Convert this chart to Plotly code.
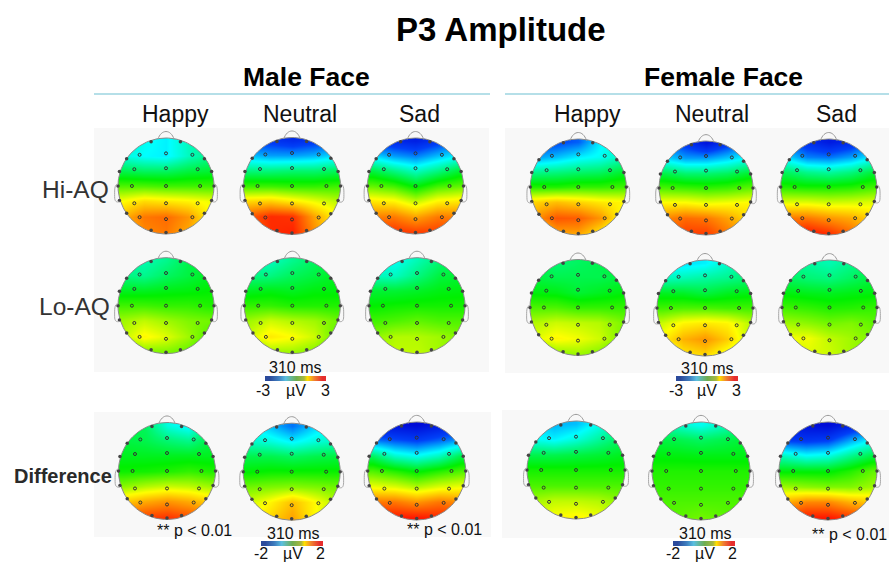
import math
import plotly.graph_objects as go

# ---- scalp values on a coarse grid (front row first, left column first), in colour-scale units
male_hi_happy = [[-.25,-.38,-.42,-.3,-.18],[-.35,-.4,-.42,-.3,-.22],[-.12,-.15,-.15,-.1,-.08],[.12,.12,.1,.1,.1],[.4,.48,.45,.42,.38],[.58,.72,.75,.65,.42],[.5,.68,.72,.6,.4]]
male_hi_neutral = [[-.7,-.75,-.8,-.75,-.65],[-.5,-.55,-.55,-.52,-.45],[-.2,-.2,-.18,-.18,-.15],[.1,.1,.08,.08,.1],[.5,.52,.45,.38,.3],[.78,.9,.88,.62,.42],[.7,.9,.92,.68,.4]]
male_hi_sad = [[-.75,-.8,-.85,-.75,-.6],[-.45,-.55,-.6,-.5,-.4],[-.1,-.2,-.3,-.2,-.08],[.15,.1,-.02,.1,.15],[.45,.42,.3,.42,.45],[.7,.72,.62,.72,.7],[.85,.88,.85,.85,.8]]
male_lo_happy = [[-.25,-.28,-.22,-.12,-.08],[-.2,-.22,-.15,-.1,-.05],[-.05,-.05,-.03,-.02,0],[.1,.1,.08,.08,.05],[.25,.3,.25,.2,.18],[.3,.42,.35,.25,.12],[.1,.2,.2,.15,.05]]
male_lo_neutral = [[-.3,-.3,-.22,-.15,-.1],[-.2,-.2,-.14,-.1,-.05],[-.05,-.03,-.05,-.02,-.02],[.08,.08,.05,.05,.05],[.25,.32,.28,.25,.18],[.32,.45,.4,.32,.15],[.15,.25,.25,.2,.1]]
male_lo_sad = [[-.35,-.38,-.28,-.18,-.12],[-.3,-.3,-.2,-.1,-.08],[-.08,-.08,-.06,-.03,-.02],[0,.02,.03,.03,.03],[.1,.12,.15,.12,.12],[.22,.28,.28,.25,.2],[.25,.3,.3,.25,.18]]
female_hi_happy = [[-.72,-.7,-.65,-.42,-.3],[-.55,-.5,-.42,-.38,-.3],[-.22,-.2,-.17,-.15,-.08],[.05,.05,.08,.08,.1],[.5,.55,.5,.45,.42],[.65,.8,.78,.65,.4],[.4,.62,.62,.45,.2]]
female_hi_neutral = [[-.6,-.75,-.9,-.75,-.55],[-.45,-.55,-.55,-.48,-.38],[-.12,-.18,-.18,-.15,-.08],[.12,.1,.08,.1,.15],[.42,.42,.38,.4,.42],[.68,.75,.72,.62,.48],[.72,.85,.85,.72,.55]]
female_hi_sad = [[-.65,-.78,-.88,-.8,-.6],[-.45,-.6,-.62,-.55,-.42],[-.15,-.22,-.25,-.2,-.1],[.05,.03,.03,.05,.1],[.35,.35,.32,.33,.35],[.72,.72,.65,.6,.5],[.85,.95,.88,.75,.55]]
female_lo_happy = [[-.12,-.18,-.15,-.12,-.08],[-.1,-.12,-.12,-.12,-.1],[-.02,-.03,-.08,-.05,-.02],[.12,.12,.08,.08,.08],[.28,.32,.3,.28,.2],[.35,.42,.38,.32,.2],[.1,.22,.25,.2,.08]]
female_lo_neutral = [[-.45,-.45,-.42,-.32,-.22],[-.3,-.28,-.25,-.22,-.18],[-.05,-.06,-.1,-.05,-.03],[.1,.12,.12,.1,.1],[.32,.42,.45,.42,.3],[.42,.58,.65,.52,.3],[.22,.45,.5,.35,.15]]
female_lo_sad = [[-.22,-.25,-.28,-.22,-.15],[-.15,-.18,-.2,-.15,-.1],[-.02,-.04,-.05,-.03,-.02],[.1,.08,.05,.06,.08],[.25,.22,.18,.2,.15],[.38,.38,.3,.25,.2],[.3,.35,.32,.25,.15]]
male_diff_happy = [[-.08,-.15,-.35,-.42,-.15],[-.1,-.12,-.18,-.22,-.1],[-.05,-.05,-.05,-.05,-.05],[.02,.03,.05,.08,.05],[.22,.28,.32,.3,.25],[.52,.6,.65,.6,.5],[.8,.85,.88,.82,.72]]
male_diff_neutral = [[-.38,-.5,-.62,-.48,-.35],[-.32,-.35,-.42,-.35,-.3],[-.12,-.12,-.15,-.12,-.1],[0,.02,.02,.02,.02],[.18,.2,.22,.2,.18],[.32,.42,.55,.42,.28],[.35,.5,.62,.42,.25]]
male_diff_sad = [[-.88,-.92,-.95,-.88,-.78],[-.62,-.68,-.72,-.65,-.55],[-.15,-.32,-.38,-.3,-.12],[.12,.05,-.02,.05,.12],[.38,.35,.28,.35,.38],[.72,.72,.65,.72,.66],[.95,.95,.95,.92,.88]]
female_diff_happy = [[-.45,-.52,-.5,-.38,-.25],[-.38,-.42,-.35,-.25,-.15],[-.12,-.12,-.1,-.08,-.05],[.03,.03,.03,.03,.03],[.12,.12,.12,.12,.12],[.25,.3,.3,.28,.22],[.32,.4,.42,.38,.28]]
female_diff_neutral = [[-.25,-.32,-.38,-.3,-.2],[-.1,-.12,-.15,-.12,-.08],[-.02,-.02,-.03,-.03,-.03],[.05,.05,.05,.05,.05],[.08,.08,.08,.08,.08],[.12,.12,.12,.12,.12],[.15,.15,.18,.15,.12]]
female_diff_sad = [[-.88,-.92,-.95,-.85,-.7],[-.72,-.75,-.72,-.55,-.4],[-.3,-.38,-.35,-.22,-.1],[-.02,-.02,-.02,.05,.15],[.25,.22,.2,.2,.25],[.58,.68,.68,.58,.52],[.88,.95,.95,.88,.78]]

scale_values = [-3, -2, -1, 0, 1, 2, 3]

# ---- montage (head-radius units)
inner_x = [-.55,0,.55,-.66,0,.66,-.71,0,.71,-.66,0,.66,-.55,0,.55]
inner_y = [-.65,-.68,-.65,-.35,-.37,-.35,0,0,0,.36,.36,.36,.65,.69,.65]
rim_x = [-.31,.30,-.82,.80,-.97,.95,-1,1,-.97,.95,-.82,.8,-.31,.3,0]
rim_y = [-.92,-.92,-.57,-.57,-.3,-.3,0,0,.3,.3,.57,.57,.92,.92,.97]

W, H = 889, 562
maps = [
 (male_hi_happy,166,186,48),(male_hi_neutral,292,186,48.5),(male_hi_sad,415.5,186,48),
 (female_hi_happy,578.3,187,48),(female_hi_neutral,706,188,47),(female_hi_sad,828.7,187,48),
 (male_lo_happy,166,305.7,48),(male_lo_neutral,292.3,305.7,48),(male_lo_sad,417,305.7,48),
 (female_lo_happy,578,307.5,48),(female_lo_neutral,705,308,48),(female_lo_sad,829.5,307.5,47.5),
 (male_diff_happy,167,471,48.5),(male_diff_neutral,291.7,471.7,48.5),(male_diff_sad,416.7,471,49),
 (female_diff_happy,576,470,49),(female_diff_neutral,701,471,49),(female_diff_sad,828,471,49),
]
grid_x = [-.9,-.45,0,.45,.9]
grid_y = [-.95,-.633,-.317,0,.317,.633,.95]
topo_scale = [[0,"#0000d0"],[.15,"#0040f8"],[.3,"#00ffff"],[.5,"#00f000"],[.7,"#ffff00"],[.85,"#ff8000"],[1,"#ff0000"]]
bar_scale = [[0,"#2b4a9b"],[.17,"#3f7fc0"],[.3,"#5bbfe0"],[.5,"#6fae50"],[.66,"#a8b840"],[.72,"#ffe000"],[.85,"#f08030"],[1,"#e62e2e"]]
panel = "#f8f8f8"

fig = go.Figure()
shapes = []
for x0,y0,x1,y1 in [(94,128,489,372),(505,128,889,373),(94,412,491,537),(502,410,889,538)]:
    shapes.append(dict(type="rect",xref="x",yref="y",x0=x0,y0=y0,x1=x1,y1=y1,layer="below",line_width=0,fillcolor=panel))
for x0,x1 in [(94,490),(505,889)]:
    shapes.append(dict(type="line",xref="x",yref="y",x0=x0,x1=x1,y0=94,y1=94,line=dict(color="#b5dfe8",width=2)))

for z,cx,cy,r in maps:
    fig.add_trace(go.Heatmap(z=z,x=[cx+r*g for g in grid_x],y=[cy+r*g for g in grid_y],zmin=-1,zmax=1,
                             colorscale=topo_scale,zsmooth="best",showscale=False,hoverinfo="skip"))
for z,cx,cy,r in maps:
    s = r*1.17
    circle = [(cx+r*math.sin(2*math.pi*i/120), cy+r*math.cos(2*math.pi*i/120)) for i in range(121)]
    outer = [(cx,cy+s),(cx+s,cy+s),(cx+s,cy-s),(cx-s,cy-s),(cx-s,cy+s),(cx,cy+s)]
    pts = outer + circle[::-1]
    fig.add_trace(go.Scatter(x=[p[0] for p in pts],y=[p[1] for p in pts],mode="lines",fill="toself",
                             fillcolor=panel,line=dict(width=0),hoverinfo="skip",showlegend=False))
    fig.add_trace(go.Scatter(x=[c[0] for c in circle],y=[c[1] for c in circle],mode="lines",
                             line=dict(color="#8a8a8a",width=1),hoverinfo="skip",showlegend=False))
    # nose and ears
    nose = f"M {cx-.17*r} {cy-.97*r} C {cx-.1*r} {cy-1.19*r}, {cx+.1*r} {cy-1.19*r}, {cx+.17*r} {cy-.97*r}"
    shapes.append(dict(type="path",xref="x",yref="y",path=nose,line=dict(color="#9a9a9a",width=1)))
    for sgn in (-1,1):
        ear = (f"M {cx+sgn*1.0*r} {cy-.04*r} C {cx+sgn*1.08*r} {cy-.04*r}, {cx+sgn*1.07*r} {cy+.1*r}, {cx+sgn*1.07*r} {cy+.22*r} "
               f"C {cx+sgn*1.07*r} {cy+.33*r}, {cx+sgn*1.03*r} {cy+.34*r}, {cx+sgn*.97*r} {cy+.33*r}")
        shapes.append(dict(type="path",xref="x",yref="y",path=ear,line=dict(color="#a8a8a8",width=1)))
    fig.add_trace(go.Scatter(x=[cx+r*v for v in inner_x],y=[cy+r*v for v in inner_y],mode="markers",
                             marker=dict(symbol="circle-open",size=3,color="#333333",line=dict(width=1,color="#333333")),
                             hoverinfo="skip",showlegend=False))
    fig.add_trace(go.Scatter(x=[cx+r*v for v in rim_x],y=[cy+r*v for v in rim_y],mode="markers",
                             marker=dict(size=3.5,color="#444444"),hoverinfo="skip",showlegend=False))

for x0,x1,y0,y1 in [(265,326,376,381),(676,738,376,381),(261,323,541,546),(673,735,541,546)]:
    n = len(scale_values)
    step = (x1-x0)/n
    fig.add_trace(go.Heatmap(z=[scale_values,scale_values],x=[x0+step*(i+.5) for i in range(n)],
                             y=[y0+(y1-y0)/4,y1-(y1-y0)/4],zmin=-3,zmax=3,
                             colorscale=bar_scale,zsmooth="best",showscale=False,hoverinfo="skip"))

texts = [
 ("P3 Amplitude",501,29,33,True,"#000000"),("Male Face",306,77,26.5,True,"#000000"),("Female Face",723,77,26.5,True,"#000000"),
 ("Happy",175,114,23,False,"#111111"),("Neutral",300,114,23,False,"#111111"),("Sad",419,114,23,False,"#111111"),
 ("Happy",587,114,23,False,"#111111"),("Neutral",712,114,23,False,"#111111"),("Sad",836,114,23,False,"#111111"),
 ("Hi-AQ",75.5,189,24.5,False,"#333333"),("Lo-AQ",74,306,24.5,False,"#333333"),("Difference",62.5,476,20,True,"#2a2a2a"),
 ("310 ms",295,367,16,False,"#111111"),("310 ms",707,368,16,False,"#111111"),("310 ms",293,533,16,False,"#111111"),("310 ms",705,533,16,False,"#111111"),
 ("-3",263,390,16,False,"#111111"),("µV",296,390,16,False,"#111111"),("3",325,390,16,False,"#111111"),
 ("-3",676,390,16,False,"#111111"),("µV",707,390,16,False,"#111111"),("3",736,390,16,False,"#111111"),
 ("-2",261,553,16,False,"#111111"),("µV",293,553,16,False,"#111111"),("2",320,553,16,False,"#111111"),
 ("-2",673,553,16,False,"#111111"),("µV",705,553,16,False,"#111111"),("2",732,553,16,False,"#111111"),
 ("** p < 0.01",194,530,16,False,"#111111"),("** p < 0.01",444,529,16,False,"#111111"),("** p < 0.01",849,534,16,False,"#111111"),
]
ann = [dict(text=f"<b>{t}</b>" if b else t,x=x,y=y,xref="x",yref="y",showarrow=False,xanchor="center",yanchor="middle",
            font=dict(family="Liberation Sans",size=s,color=c)) for t,x,y,s,b,c in texts]

fig.update_layout(width=W,height=H,margin=dict(l=0,r=0,t=0,b=0),paper_bgcolor="white",plot_bgcolor="white",showlegend=False,
                  shapes=shapes,annotations=ann,
                  xaxis=dict(range=[0,W],visible=False,fixedrange=True),
                  yaxis=dict(range=[H,0],visible=False,fixedrange=True))
fig.write_html("out.html",config={"displayModeBar":False},post_script="document.body.style.margin='0';")
